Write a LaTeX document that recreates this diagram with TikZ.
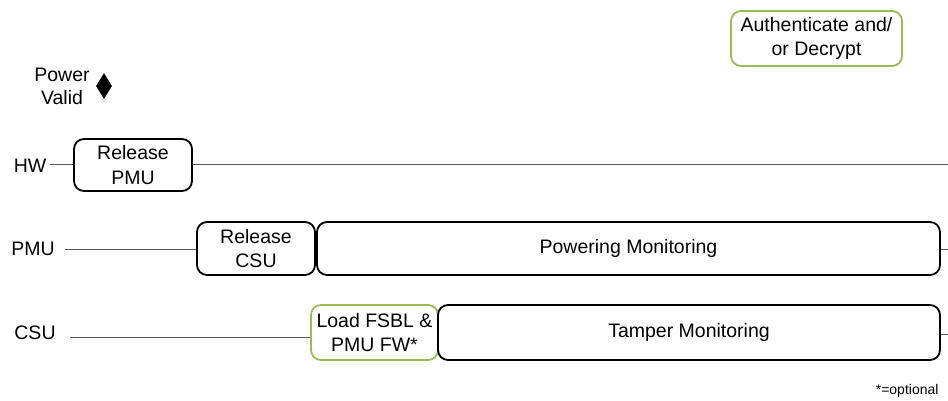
\documentclass[tikz,border=0pt]{standalone}
\usepackage{fontspec}
\setmainfont{Liberation Sans}
\usetikzlibrary{shapes.geometric}
\definecolor{boxgreen}{RGB}{155,187,89}
\definecolor{linegray}{RGB}{90,90,90}
\begin{document}
\begin{tikzpicture}[x=1pt,y=-1pt,
  phase/.style={draw=black,line width=1.8pt,rounded corners=10pt,align=center,inner sep=0pt,font=\fontsize{19.5}{24.5}\selectfont},
  optbox/.style={phase,draw=boxgreen},
  lane/.style={font=\fontsize{19.5}{23}\selectfont},
  wire/.style={draw=linegray,line width=0.9pt}]
\useasboundingbox (0,0) rectangle (948,401);
% Authenticate
\node[optbox,minimum width=171pt,minimum height=55pt] (auth) at (816.5,38.5) {Authenticate and/\\or Decrypt};
% Power valid
\node[lane,align=center] (pv) at (62,86) {Power\\Valid};
\node[diamond,fill=black,inner sep=0pt,minimum width=16pt,minimum height=26pt] (dia) at (104,86) {};
% HW
\node[lane] (hw) at (30,166) {HW};
\node[phase,minimum width=118pt,minimum height=52pt] (rpmu) at (133,165) {Release\\PMU};
\coordinate (hwstart) at (50,164);
\coordinate (hwend) at (948,164);
\draw[wire] (hwstart) -- (hwstart -| rpmu.west);
\draw[wire] (hwend -| rpmu.east) -- (hwend);
% PMU
\node[lane] (pmu) at (33,249) {PMU};
\node[phase,minimum width=118pt,minimum height=53pt] (rcsu) at (256,248.5) {Release\\CSU};
\node[phase,minimum width=623pt,minimum height=53pt] (pm) at (628.5,248.5) {Powering Monitoring};
\coordinate (pmustart) at (65,249);
\coordinate (pmuend) at (948,249);
\draw[wire] (pmustart) -- (pmustart -| rcsu.west);
\draw[wire] (pmuend -| pm.east) -- (pmuend);
% CSU
\node[lane] (csu) at (35,333) {CSU};
\node[optbox,minimum width=127pt,minimum height=55pt] (load) at (374.5,332.5) {Load FSBL \&\\PMU FW*};
\node[phase,minimum width=502pt,minimum height=55pt] (tm) at (689,332.5) {Tamper Monitoring};
\coordinate (csuend) at (948,334);
\coordinate (csustart) at (70,337);
\draw[wire] (csustart) -- (csustart -| load.west);
\draw[wire] (csuend -| tm.east) -- (csuend);
% note
\node[font=\fontsize{14}{16}\selectfont,anchor=east] (note) at (942,391) {*=optional};
\end{tikzpicture}
\end{document}
